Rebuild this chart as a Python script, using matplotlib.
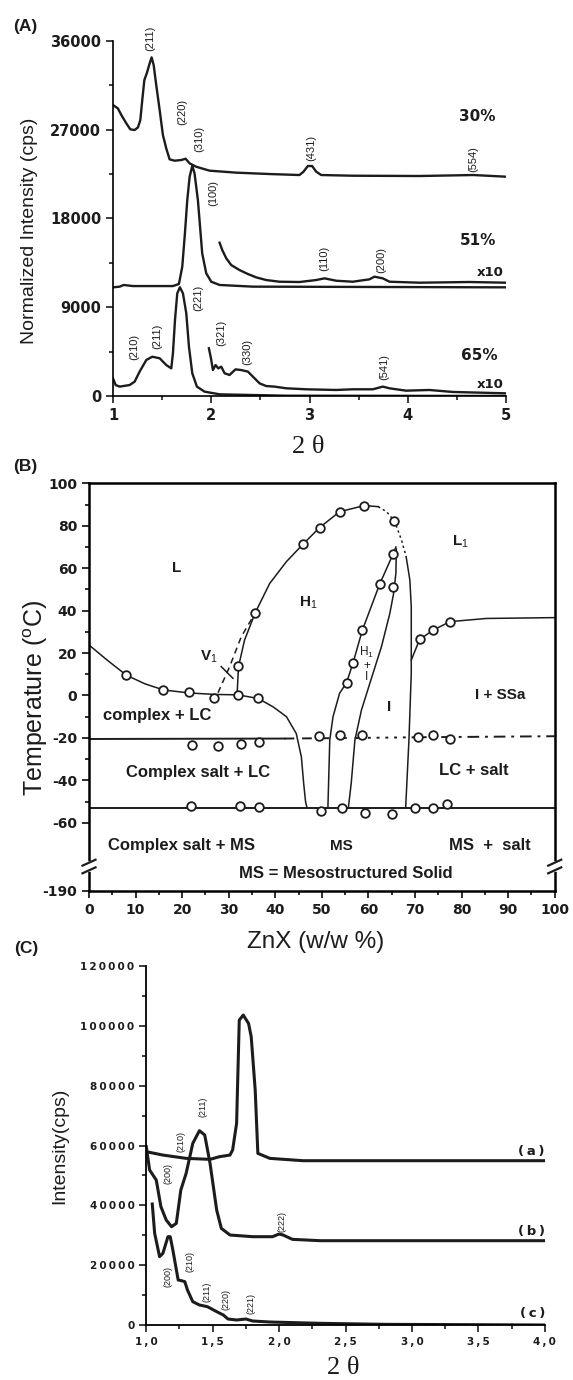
import matplotlib.pyplot as plt
from matplotlib.ticker import MultipleLocator, FuncFormatter

plt.rcParams['font.family'] = ['DejaVu Sans']
plt.rcParams['mathtext.fontset'] = 'custom'
plt.rcParams['mathtext.rm'] = 'Liberation Sans'
plt.rcParams['mathtext.it'] = 'Liberation Sans:italic'
plt.rcParams['mathtext.bf'] = 'Liberation Sans:bold'

# ---------------- (A) SAXS patterns of the three compositions ----------------
a30_x = [1.00, 1.05, 1.085, 1.136, 1.176, 1.22, 1.254, 1.278, 1.298, 1.319, 1.346, 1.373, 1.393,
         1.414, 1.44, 1.475, 1.508, 1.542, 1.576, 1.627, 1.695, 1.739, 1.78, 1.847, 1.983, 2.254,
         2.593, 2.898, 2.939, 2.983, 3.027, 3.068, 3.119, 3.44, 4.119, 4.668, 5.0]
a30_y = [29480, 29140, 28470, 27620, 27020, 26950, 27220, 27960, 29990, 32010, 32760, 33700, 34310,
         33530, 31510, 28970, 26440, 25090, 23980, 23840, 23910, 24040, 23570, 23230, 22830, 22630,
         22490, 22390, 22730, 23300, 23300, 22730, 22390, 22320, 22290, 22390, 22220]

a51_x = [1.0, 1.068, 1.108, 1.203, 1.61, 1.671, 1.705, 1.732, 1.756, 1.78, 1.807, 1.83, 1.864,
         1.908, 1.949, 2.0, 2.085, 2.424, 5.0]
a51_y = [11010, 11080, 11250, 11140, 11140, 11350, 13100, 16480, 19860, 22220, 23330, 22560, 19860,
         14450, 12430, 11580, 11250, 11080, 11010]

a51x10_x = [2.085, 2.112, 2.153, 2.203, 2.288, 2.373, 2.458, 2.559, 2.695, 2.898, 3.068, 3.153,
            3.271, 3.44, 3.61, 3.661, 3.746, 3.814, 4.119, 4.627, 5.0]
a51x10_y = [15530, 14790, 13950, 13270, 12760, 12360, 12020, 11750, 11580, 11550, 11750, 11920,
            11680, 11580, 11820, 12090, 11920, 11580, 11480, 11550, 11480]

a65_x = [1.0, 1.027, 1.068, 1.169, 1.22, 1.271, 1.339, 1.4, 1.475, 1.542, 1.593, 1.61, 1.631,
         1.654, 1.681, 1.712, 1.746, 1.773, 1.807, 1.854, 1.932, 2.085, 2.763, 5.0]
a65_y = [1790, 1110, 950, 1110, 1450, 2470, 3650, 3980, 3820, 3140, 2800, 4320, 7700,
         10400, 11010, 10400, 8370, 5000, 2300, 950, 440, 170, 30, 0]

a65x10_x = [1.976, 1.997, 2.017, 2.044, 2.071, 2.102, 2.136, 2.186, 2.247, 2.305, 2.373, 2.424,
            2.492, 2.559, 2.644, 2.763, 2.966, 3.271, 3.44, 3.644, 3.746, 3.814, 3.983, 4.22,
            4.458, 4.729, 5.0]
a65x10_y = [4830, 3820, 2630, 3140, 2800, 2970, 2300, 2130, 2700, 2630, 2470, 1960,
            1280, 1010, 950, 780, 680, 610, 680, 680, 950, 780, 540, 610,
            410, 340, 270]

peaks_A = ['(211)', '(220)', '(310)', '(431)', '(554)', '(100)', '(110)', '(200)',
           '(221)', '(210)', '(211)', '(321)', '(330)', '(541)']
peaks_A_x = [1.38, 1.70, 1.88, 3.02, 4.67, 2.02, 3.15, 3.73, 1.87, 1.22, 1.45, 2.10, 2.37, 3.76]
peaks_A_y = [36230, 28800, 26000, 25090, 23980, 20600, 13950, 13780, 9960, 5000, 6080, 6350, 4490, 2970]

tags_A = ['30%', '51%', 'x10', '65%', 'x10']
tags_A_x = [4.71, 4.72, 4.84, 4.73, 4.84]
tags_A_y = [28300, 15740, 12500, 4150, 1215]

# ---------------- (B) phase diagram ----------------
liq_left_x = [0, 4, 8, 12, 16, 21.5, 27, 32, 36.3, 39.5, 42.4, 44.5, 45.6, 46.1, 46.5, 46.8]
liq_left_y = [23.8, 16.5, 9.6, 5.5, 2.6, 1.2, 0.5, 0.3, -1.4, -5.3, -10, -17.9, -28.9, -41.5, -50, -52.8]

dome_x = [31.8, 32.1, 33.4, 35.7, 38.8, 42.4, 46.0, 49.5, 53.8, 59.1, 62.1]
dome_y = [0.5, 13.6, 26.1, 39.0, 52.8, 63.1, 71.4, 79.1, 86.6, 89.5, 89.0]
dome_dot_x = [62.1, 63.9, 65.6, 67.1, 68.1]
dome_dot_y = [89.0, 86.6, 82.2, 73.3, 65.4]
l1_bound_x = [68.1, 68.9, 69.2, 69.2, 68.7, 68.0]
l1_bound_y = [65.4, 54.4, 41.8, 10.4, -21, -52.8]

v1_x = [27.7, 30.2, 32.7, 35.2]
v1_y = [1.3, 13.6, 27.7, 37.1]
v1_mark_x = [28.4, 30.9]
v1_mark_y = [13.6, 8.1]

h1_right_x = [51.3, 51.7, 52.4, 53.8, 55.3, 56.7, 58.7, 62.4, 65.3, 65.9]
h1_right_y = [-52.8, -21, -10, 1, 6, 15.4, 30.8, 52.4, 66.7, 70]
i_left_x = [55.7, 56.3, 57.1, 58.5, 60.3, 62.8, 64.6, 65.4, 65.9, 66.0]
i_left_y = [-52.8, -41.5, -21, -6.9, 5.7, 23, 38.7, 48, 57.6, 69]

liq_right_x = [69.2, 71.0, 73.9, 77.5, 85.3, 100]
liq_right_y = [16.7, 26.4, 30.8, 34.8, 36.3, 36.7]

pts_x = [8.0, 15.9, 21.5, 26.9, 32.0, 36.3, 32.1, 35.7, 46.0, 49.5, 53.8, 59.1, 65.6,
         55.3, 56.7, 58.7, 62.4, 65.3, 65.3,
         22.2, 27.7, 32.6, 36.4, 49.3, 54.0, 58.7, 70.7, 73.9, 77.5,
         21.8, 32.5, 36.6, 49.9, 54.3, 59.2, 65.1, 69.9, 73.9, 76.9,
         71.0, 73.9, 77.5]
pts_y = [9.6, 2.6, 1.8, -1.1, 0.2, -1.4, 13.9, 39.0, 71.4, 79.1, 86.6, 89.5, 82.2,
         6.0, 15.4, 30.8, 52.4, 66.7, 51.3,
         -23.1, -23.9, -22.9, -21.8, -19.0, -18.7, -18.7, -19.5, -18.7, -20.6,
         -52.0, -52.0, -52.5, -54.3, -53.2, -55.6, -55.9, -52.9, -53.2, -51.2,
         26.4, 30.8, 34.8]

phase_text = ['L', 'H$_{\\mathrm{1}}$', 'L$_{\\mathrm{1}}$', 'V$_{\\mathrm{1}}$', 'I', 'I + SSa',
              'complex + LC', 'Complex salt + LC', 'LC + salt', 'Complex salt + MS', 'MS',
              'MS  +  salt', 'MS = Mesostructured Solid']
phase_x = [18.9, 47.0, 79.7, 25.8, 64.4, 88.2, 14.7, 23.4, 82.7, 19.8, 54.2, 86.0, 55.1]
phase_y = [59.9, 43.9, 72.2, 18.3, -5.3, 0.2, -9.2, -36.3, -35.2, -70.8, -70.8, -70.8, -83.9]

b_yticks = [100, 80, 60, 40, 20, 0, -20, -40, -60, -92]
b_ylabels = ['100', '80', '60', '40', '20', '0', '-20', '-40', '-60', '-190']

# ---------------- (C) patterns a, b, c ----------------
ca_x = [1.0, 1.125, 1.3, 1.48, 1.55, 1.63, 1.65, 1.68, 1.70, 1.73, 1.77, 1.79, 1.82, 1.84,
        1.93, 2.18, 4.0]
ca_y = [57930, 56800, 55700, 55370, 56250, 56800, 58490, 67400, 101900, 103600, 100800, 96360,
        78540, 57370, 55700, 54920, 54920]

cb_x = [1.0, 1.025, 1.05, 1.075, 1.11, 1.15, 1.19, 1.226, 1.26, 1.30, 1.35, 1.40, 1.44, 1.48,
        1.53, 1.565, 1.63, 1.80, 1.95, 2.0, 2.03, 2.10, 2.31, 4.0]
cb_y = [59600, 51800, 50130, 48460, 39550, 35090, 32860, 33980, 45120, 50690, 60710, 64950,
        63500, 54030, 38430, 32300, 30080, 29520, 29520, 30410, 30080, 28630, 28180, 28180]

cc_x = [1.045, 1.063, 1.10, 1.125, 1.163, 1.18, 1.20, 1.24, 1.264, 1.29, 1.31, 1.35, 1.40,
        1.46, 1.53, 1.58, 1.615, 1.68, 1.75, 1.80, 1.93, 2.31, 2.8, 4.0]
cc_y = [40440, 30630, 22840, 23950, 29520, 29520, 25060, 15040, 14820, 14480, 11700, 7800,
        6690, 6130, 4460, 3340, 2005, 1670, 2005, 1340, 1000, 560, 220, 0]

peaks_C = ['(211)', '(210)', '(200)', '(222)', '(210)', '(200)', '(211)', '(220)', '(221)']
peaks_C_x = [1.43, 1.26, 1.16, 2.02, 1.33, 1.16, 1.46, 1.60, 1.79]
peaks_C_y = [72970, 61270, 50690, 34530, 21170, 16150, 11140, 8580, 7240]

tags_C = ['(a)', '(b)', '(c)']
tags_C_x = [3.90, 3.90, 3.91]
tags_C_y = [57930, 31190, 3900]

W, H = 573, 1380
fig = plt.figure(figsize=(W / 100, H / 100), dpi=100)
ink = '#1c1c1c'


def box(l, t, r, b):
    return [l / W, 1 - b / H, (r - l) / W, (b - t) / H]


def ftext(x, y, s, **kw):
    fig.text(x / W, 1 - y / H, s, ha='center', va='center', color=ink, **kw)


def bold_ticks(ax):
    for t in ax.get_xticklabels() + ax.get_yticklabels():
        t.set_fontweight('bold')


# ---- panel A ----
axA = fig.add_axes(box(113, 40.7, 506, 396))
axA.plot(a30_x, a30_y, color=ink, lw=1.7)
axA.plot(a51_x, a51_y, color=ink, lw=1.7)
axA.plot(a51x10_x, a51x10_y, color=ink, lw=1.7)
axA.plot(a65_x, a65_y, color=ink, lw=1.7)
axA.plot(a65x10_x, a65x10_y, color=ink, lw=1.7)
axA.set_xlim(1, 5)
axA.set_ylim(0, 36000)
axA.spines[['top', 'right']].set_visible(False)
for s in axA.spines.values():
    s.set_linewidth(1.2)
axA.xaxis.set_major_locator(MultipleLocator(1))
axA.xaxis.set_minor_locator(MultipleLocator(0.5))
axA.yaxis.set_major_locator(MultipleLocator(9000))
axA.yaxis.set_minor_locator(MultipleLocator(4500))
axA.tick_params(which='both', direction='out', width=1.2, labelsize=10.5, colors=ink)
axA.tick_params(which='major', length=5)
axA.tick_params(which='minor', length=3)
bold_ticks(axA)
for s, x, y in zip(peaks_A, peaks_A_x, peaks_A_y):
    axA.text(x, y, s, rotation=90, ha='center', va='center', fontsize=8,
             family='Liberation Sans', color=ink, clip_on=False)
for s, x, y in zip(tags_A, tags_A_x, tags_A_y):
    axA.text(x, y, s, ha='center', va='center', fontsize=11 if '%' in s else 9.5,
             weight='bold', color=ink)

ftext(25, 27, '(A)', fontsize=12.5, family='Liberation Sans', weight='bold')
ftext(30, 231, 'Normalized Intensity (cps)', rotation=90, fontsize=14,
      family='Liberation Sans')
ftext(308, 447, '2 θ', fontsize=19, family='Liberation Serif')

# ---- panel B ----
axB = fig.add_axes(box(89, 483.3, 554.7, 890.7))
lw = 1.1
axB.plot(liq_left_x, liq_left_y, color=ink, lw=lw)
axB.plot(dome_x, dome_y, color=ink, lw=lw)
axB.plot(dome_dot_x, dome_dot_y, color=ink, lw=lw, ls=(0, (1.5, 2)))
axB.plot(l1_bound_x, l1_bound_y, color=ink, lw=lw)
axB.plot(v1_x, v1_y, color=ink, lw=lw, ls=(0, (4, 3)))
axB.plot(v1_mark_x, v1_mark_y, color=ink, lw=lw)
axB.plot(h1_right_x, h1_right_y, color=ink, lw=lw)
axB.plot(i_left_x, i_left_y, color=ink, lw=lw)
axB.plot(liq_right_x, liq_right_y, color=ink, lw=lw)
axB.plot([0, 42], [-20.5, -20.3], color=ink, lw=1.4)
axB.plot([42, 58], [-20.3, -20.0], color=ink, lw=1.4, ls=(0, (5, 4)))
axB.plot([58, 70], [-20.0, -19.7], color=ink, lw=1.4, ls=(0, (1.5, 3)))
axB.plot([70, 100], [-19.7, -19.2], color=ink, lw=1.4, ls=(0, (6, 3, 1.5, 3)))
axB.plot([0, 100], [-52.8, -52.8], color=ink, lw=1.4)
axB.plot(pts_x, pts_y, ls='none', marker='o', ms=6.2, mfc='white', mec=ink, mew=1.3)
for s, x, y in zip(phase_text, phase_x, phase_y):
    fs = 11 if len(s) < 8 or '$' in s else 12
    axB.text(x, y, s, ha='center', va='center', fontsize=fs, family='Liberation Sans',
             weight='bold', color=ink)
for s, y in zip(['H$_{\\mathrm{1}}$', '+', 'I'], [20.5, 14.0, 8.5]):
    axB.text(59.6, y, s, ha='center', va='center', fontsize=8.5, family='Liberation Sans',
             color=ink)
axB.set_xlim(0, 100)
axB.set_ylim(-92, 100)
axB.xaxis.set_major_locator(MultipleLocator(10))
axB.xaxis.set_minor_locator(MultipleLocator(5))
axB.set_yticks(b_yticks, b_ylabels)
axB.set_yticks([90, 70, 50, 30, 10, -10, -30, -50], minor=True)
for s in axB.spines.values():
    s.set_linewidth(1.8)
axB.tick_params(which='both', direction='out', width=1.3, labelsize=10, colors=ink)
axB.tick_params(which='major', length=5)
axB.tick_params(which='minor', length=3)
bold_ticks(axB)
# axis break marks on both vertical spines
for xa in (0, 1):
    axB.plot([xa, xa], [-79.3, -82.0], transform=axB.get_yaxis_transform(), color='white',
             lw=4, clip_on=False, zorder=5)
    for yb in (-78.8, -82.4):
        axB.plot([xa - 0.014, xa + 0.014], [yb - 1.4, yb + 1.4],
                 transform=axB.get_yaxis_transform(), color=ink, lw=1.6,
                 clip_on=False, zorder=6)

ftext(25, 466, '(B)', fontsize=12.5, family='Liberation Sans', weight='bold')
ftext(36, 698, 'Temperature ($^{\\mathrm{o}}$C)', rotation=90, fontsize=18,
      family='Liberation Sans')
ftext(316, 942, 'ZnX (w/w %)', fontsize=17.5, family='Liberation Sans')

# ---- panel C ----
axC = fig.add_axes(box(146.3, 966, 544.7, 1325))
axC.plot(ca_x, ca_y, color=ink, lw=2.2)
axC.plot(cb_x, cb_y, color=ink, lw=2.2)
axC.plot(cc_x, cc_y, color=ink, lw=2.2)
axC.set_xlim(1, 4)
axC.set_ylim(0, 120000)
axC.spines[['top', 'right']].set_visible(False)
for s in axC.spines.values():
    s.set_linewidth(1.3)
axC.xaxis.set_major_locator(MultipleLocator(0.5))
axC.xaxis.set_minor_locator(MultipleLocator(0.25))
axC.yaxis.set_major_locator(MultipleLocator(20000))
axC.yaxis.set_minor_locator(MultipleLocator(10000))
axC.xaxis.set_major_formatter(FuncFormatter(
    lambda v, p: '\u2009'.join(f'{v:.1f}'.replace('.', ','))))
axC.yaxis.set_major_formatter(FuncFormatter(lambda v, p: '\u2009'.join(f'{int(v)}')))
axC.tick_params(which='both', direction='out', width=1.2, labelsize=7.5, colors=ink)
axC.tick_params(which='major', length=5)
axC.tick_params(which='minor', length=3)
bold_ticks(axC)
for s, x, y in zip(peaks_C, peaks_C_x, peaks_C_y):
    axC.text(x, y, s, rotation=90, ha='center', va='center', fontsize=6.5,
             family='Liberation Sans', color=ink)
for s, x, y in zip(tags_C, tags_C_x, tags_C_y):
    axC.text(x, y, '\u2009'.join(s), ha='center', va='center', fontsize=9.5,
             weight='bold', color=ink)

ftext(26, 948, '(C)', fontsize=12.5, family='Liberation Sans', weight='bold')
ftext(60, 1146, 'Intensity(cps)', rotation=90, fontsize=14, family='Liberation Sans')
ftext(343, 1368, '2 θ', fontsize=19, family='Liberation Serif')

fig.savefig('out.png', dpi=100, facecolor='white')
